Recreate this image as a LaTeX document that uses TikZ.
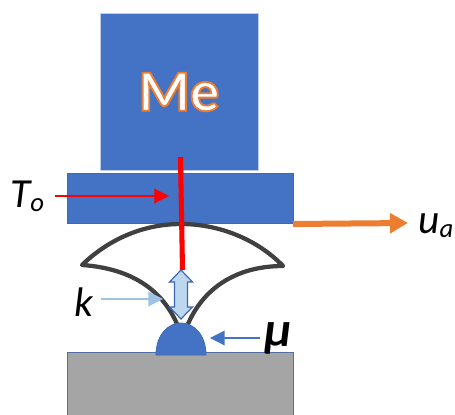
\documentclass[tikz,border=0pt]{standalone}
\usepackage{fontspec}
\setmainfont{Carlito}
\usetikzlibrary{arrows.meta}
\definecolor{oblue}{HTML}{4472C4}
\definecolor{oborder}{HTML}{3E68B2}
\definecolor{pale}{HTML}{BDD7EE}
\definecolor{midblue}{HTML}{9DC3E6}
\definecolor{oorange}{HTML}{ED7D31}
\definecolor{ogray}{HTML}{A5A5A5}
\definecolor{redc}{HTML}{FF0000}
\definecolor{curvec}{HTML}{404040}
\newlength{\px}\setlength{\px}{0.75pt}
\tikzset{
  x=0.75pt,y=-0.75pt,
  boxnode/.style={rectangle,inner sep=0pt,anchor=north west,fill=oblue},
  labeltext/.style={inner sep=0pt,text=black,font=\fontsize{31}{31}\selectfont\itshape},
  thinarrow/.style={line width=1pt,-{Triangle[length=11pt,width=11pt]},shorten >=0pt},
}
\begin{document}
\begin{tikzpicture}
\useasboundingbox (0,0) rectangle (455,415);
% blocks
\node[boxnode,draw=oblue!35!white,line width=0.6pt,minimum width=158\px,minimum height=157\px] (mass) at (100,13) {};
\node[boxnode,draw=oborder,line width=0.6pt,minimum width=226\px,minimum height=50\px] (plate) at (67,173) {};
\node[boxnode,fill=ogray,draw=oborder!70!gray,line width=0.6pt,minimum width=226\px,minimum height=64\px] (base) at (67,352) {};
% me text
\node[inner sep=0pt,font=\fontsize{44}{44}\selectfont\bfseries] (metext) at (179,92)
  {\special{pdf:code q 2 Tr 1.4 w 0.93 0.49 0.19 RG 1 1 1 rg}Me\special{pdf:code Q}};
% spring shape
\draw[curvec,line width=3.2pt,line join=round,fill=white]
  (177,324) .. controls (160,285) and (125,268) .. (82,265)
  .. controls (110,238) and (145,224) .. (181,224)
  .. controls (220,224) and (258,240) .. (283,266)
  .. controls (240,266) and (205,285) .. (188,324);
% dome
\draw[fill=oblue,draw=oborder,line width=0.6pt]
  (156,355) .. controls (156,335) and (168,323) .. (181,323)
  .. controls (194,323) and (206,335) .. (206,355) -- cycle;
% double arrow
\coordinate (springtop) at (181,270);
\draw[draw=oborder,line width=0.9pt,fill=pale,line join=miter]
  (springtop) -- (192.5,282) -- (187.5,282) -- (187.5,307) -- (192.5,307)
  -- (181,319) -- (169.5,307) -- (174.5,307) -- (174.5,282) -- (169.5,282) -- cycle;
% red rod
\coordinate (rodtop) at (180.5,157);
\coordinate (rodend) at (182.5,270);
\draw[redc,line width=3.8pt] (rodtop) -- (rodend);
% labels
\node[labeltext,anchor=base west] (To) at (10,207) {T\raisebox{-3pt}{\fontsize{20}{20}\selectfont o}};
\node[labeltext,anchor=base west] (ua) at (418,233) {u\raisebox{-3pt}{\fontsize{20}{20}\selectfont a}};
\node[labeltext,anchor=base west] (kl) at (74,316) {k};
\node[labeltext,anchor=base west,font=\fontsize{37}{37}\selectfont\bfseries\itshape] (mul) at (264,346) {μ};
% arrows
\coordinate (rodhit) at (169,196);
\coordinate (to0) at (55,196);
\draw[redc,thinarrow] (to0) -- (rodhit);
\coordinate (k0) at (101,299);
\coordinate (k1) at (163,299);
\draw[midblue,thinarrow] (k0) -- (k1);
\coordinate (m0) at (260,338);
\coordinate (m1) at (210,338);
\draw[oblue,thinarrow] (m0) -- (m1);
\coordinate (u0) at (293,224);
\coordinate (u1) at (408,223);
\draw[oorange,line width=4.5pt,-{Triangle[length=13.5pt,width=14.5pt]}] (u0) -- (u1);
\end{tikzpicture}
\end{document}
